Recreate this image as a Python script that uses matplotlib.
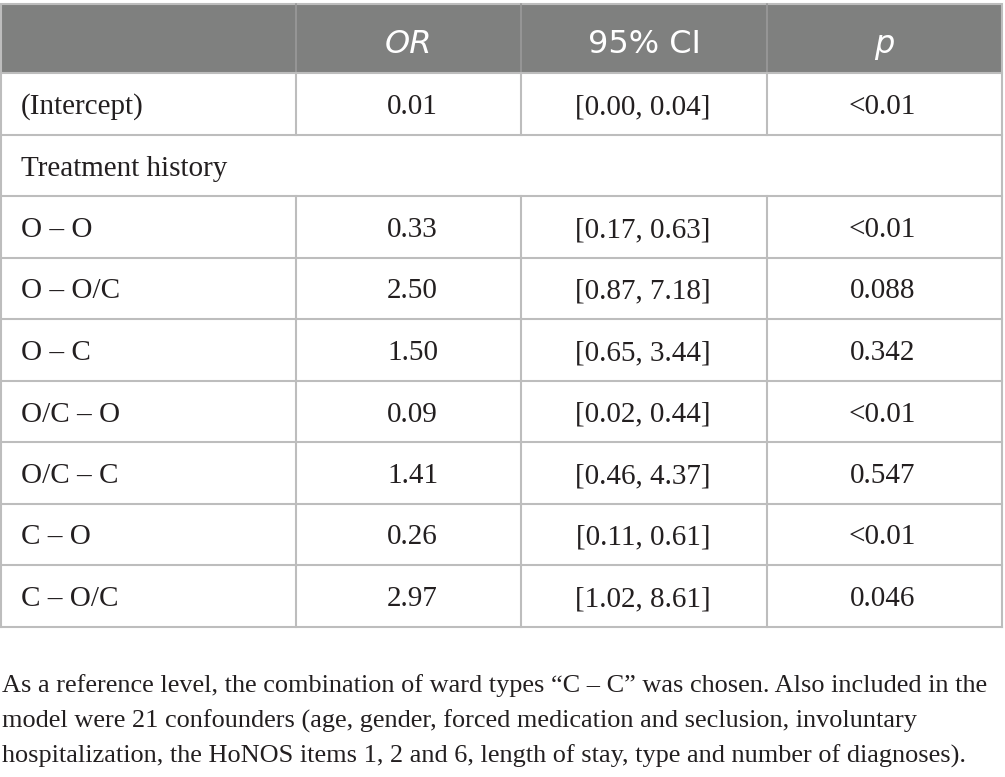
import matplotlib
matplotlib.use("Agg")
import matplotlib.pyplot as plt
from matplotlib.patches import Rectangle

# table contents
header = ["", "OR", "95% CI", "p"]
header_italic = [False, True, False, True]
terms = ["(Intercept)", "Treatment history", "O \u2013 O", "O \u2013 O/C", "O \u2013 C",
         "O/C \u2013 O", "O/C \u2013 C", "C \u2013 O", "C \u2013 O/C"]
odds = ["0.01", "", "0.33", "2.50", "1.50", "0.09", "1.41", "0.26", "2.97"]
ci = ["[0.00, 0.04]", "", "[0.17, 0.63]", "[0.87, 7.18]", "[0.65, 3.44]",
      "[0.02, 0.44]", "[0.46, 4.37]", "[0.11, 0.61]", "[1.02, 8.61]"]
pvals = ["<0.01", "", "<0.01", "0.088", "0.342", "<0.01", "0.547", "<0.01", "0.046"]
note = ["As a reference level, the combination of ward types \u201cC \u2013 C\u201d was chosen. Also included in the",
        "model were 21 confounders (age, gender, forced medication and seclusion, involuntary",
        "hospitalization, the HoNOS items 1, 2 and 6, length of stay, type and number of diagnoses)."]

W, H = 1005, 777
fig = plt.figure(figsize=(W / 100, H / 100), dpi=100)
ax = fig.add_axes([0, 0, 1, 1])
ax.set_xlim(0, W)
ax.set_ylim(H, 0)
ax.axis("off")

col_x = [1, 296, 521, 767, 1002]
nudge = [0, 4, -1, -2]
top, head_bot, row_h = 4, 73, 61.5
line_c = "#bdbdbd"
txt_c = "#231f20"
serif = "Liberation Serif"
sans = "DejaVu Sans"

# header
ax.add_patch(Rectangle((col_x[0], top), col_x[-1] - col_x[0], head_bot - top,
                       facecolor="#7f807f", edgecolor=line_c, lw=1.5))
for i in range(1, 4):
    ax.plot([col_x[i], col_x[i]], [top, head_bot], color="#9a9a9a", lw=1.2)
    cx = (col_x[i] + col_x[i + 1]) / 2
    ax.text(cx, 53, header[i], color="white", fontsize=23,
            family=sans, style="italic" if header_italic[i] else "normal",
            ha="center", va="baseline")

# body rows
n = len(terms)
bottom = head_bot + n * row_h
for r in range(n):
    y0 = head_bot + r * row_h
    yb = y0 + 41
    ax.plot([col_x[0], col_x[-1]], [y0 + row_h, y0 + row_h], color=line_c, lw=1.5)
    if odds[r]:
        for i in range(1, 4):
            ax.plot([col_x[i], col_x[i]], [y0, y0 + row_h], color=line_c, lw=1.5)
    ax.text(21, yb, terms[r], fontsize=21, family=serif, color=txt_c, va="baseline")
    for i, col in enumerate([odds, ci, pvals], start=1):
        ax.text((col_x[i] + col_x[i + 1]) / 2 + nudge[i], yb, col[r], fontsize=21,
                family=serif, color=txt_c, ha="center", va="baseline")
ax.plot([col_x[0], col_x[0]], [head_bot, bottom], color=line_c, lw=1.5)
ax.plot([col_x[-1], col_x[-1]], [head_bot, bottom], color=line_c, lw=1.5)

# footnote
for k, line in enumerate(note):
    ax.text(2, 692 + k * 35.5, line, fontsize=18.9, family=serif, color=txt_c, va="baseline")

fig.savefig("out.png", dpi=100)
